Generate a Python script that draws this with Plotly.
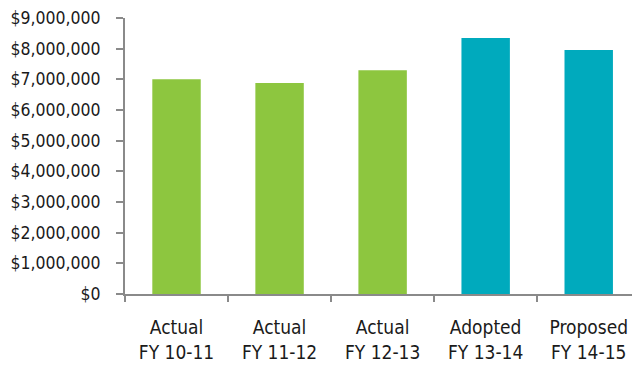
import plotly.graph_objects as go

# Budget totals by fiscal year
categories = ["Actual<br>FY 10-11", "Actual<br>FY 11-12", "Actual<br>FY 12-13",
              "Adopted<br>FY 13-14", "Proposed<br>FY 14-15"]
amounts = [7000000, 6880000, 7300000, 8350000, 7960000]
bar_colors = ["#8DC63F", "#8DC63F", "#8DC63F", "#00AABD", "#00AABD"]

FONT = "DejaVu Sans Condensed, Liberation Sans Narrow, sans-serif"
AXIS_GRAY = "#8a8a8a"

fig = go.Figure(
    go.Bar(
        x=categories,
        y=amounts,
        marker=dict(color=bar_colors, line=dict(width=0)),
        width=0.47,
        hoverinfo="skip",
    )
)

fig.update_layout(
    width=632,
    height=368,
    margin=dict(l=125, r=0, t=18, b=74),
    paper_bgcolor="white",
    plot_bgcolor="white",
    showlegend=False,
    font=dict(family=FONT, color="#1a1a1a"),
)

fig.update_xaxes(
    type="category",
    range=[-0.5, 4.42],
    showline=True,
    linecolor=AXIS_GRAY,
    linewidth=2,
    ticks="outside",
    tickson="boundaries",
    ticklen=6,
    tickwidth=2,
    tickcolor=AXIS_GRAY,
    tickfont=dict(size=19, family=FONT),
    ticklabelstandoff=15,
    showgrid=False,
    zeroline=False,
)

fig.update_yaxes(
    range=[0, 9000000],
    dtick=1000000,
    tickprefix="$",
    tickformat=",",
    showline=True,
    linecolor=AXIS_GRAY,
    linewidth=2,
    ticks="outside",
    ticklen=7,
    tickwidth=2,
    tickcolor=AXIS_GRAY,
    tickfont=dict(size=17.5, family=FONT),
    ticklabelstandoff=12,
    showgrid=False,
    zeroline=False,
)

fig.write_html("out.html")
